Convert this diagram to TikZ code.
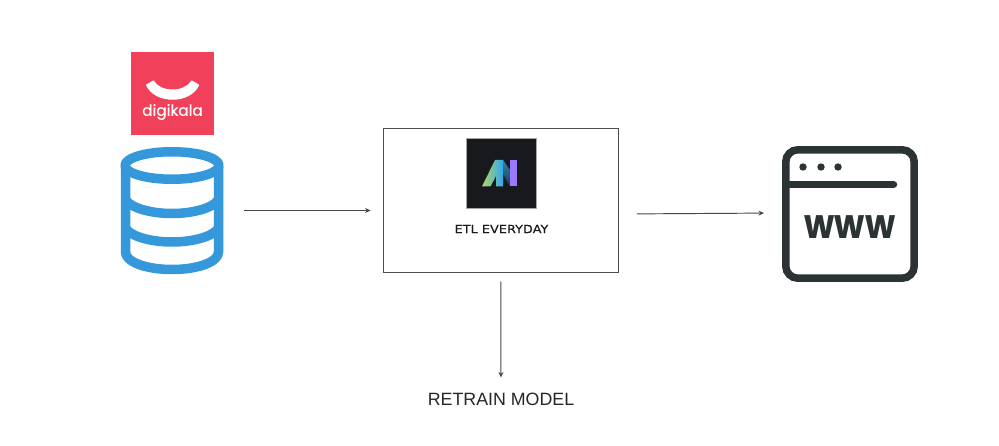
\documentclass[tikz,border=0pt]{standalone}
\usepackage{fontspec}
\setmainfont{Liberation Sans}
\newfontfamily\popfont{Poppins}
\newfontfamily\popheavy[FakeBold=0.5]{Poppins}
\newfontfamily\dvfont[FakeBold=0.15]{DejaVu Sans}
\usetikzlibrary{arrows.meta,calc}
\definecolor{dkred}{HTML}{F1415A}
\definecolor{dbblue}{HTML}{3498DB}
\definecolor{wwwink}{HTML}{2C3335}
\definecolor{logobg}{HTML}{17191D}
\definecolor{mlime}{HTML}{B4D664}
\definecolor{mcyan}{HTML}{45CFE6}
\definecolor{mblue}{HTML}{2FA8F0}
\definecolor{mtealhi}{HTML}{2E86A8}
\definecolor{mteallo}{HTML}{1C3A4C}
\definecolor{mpurple}{HTML}{9A78FF}
\tikzset{
  link/.style={draw=black!72,line width=0.95pt,-{Stealth[length=5.5pt,width=5pt]}},
  dbline/.style={draw=dbblue,line width=9.5pt,line join=round},
  wwwline/.style={draw=wwwink,line width=7.5pt,line cap=round},
  holder/.style={inner sep=0pt,outer sep=0pt,minimum width=#1},
}
\begin{document}
\begin{tikzpicture}[x=1pt,y=-1pt]
\useasboundingbox (0,0) rectangle (999,446);
\fill[white] (0,0) rectangle (999,446);
% digikala logo
\node[fill=dkred,inner sep=0pt,minimum width=83pt,minimum height=83pt] (logo) at (172.5,93.5) {};
\fill[white,line join=round,draw=white,line width=1pt] (146.5,85) -- (153.5,81) .. controls (160,93) and (185,93) .. (191.7,81) -- (198.7,85) .. controls (190,104) and (155,104) .. (146.5,85) -- cycle;
\node[text=white,font=\popheavy\fontsize{15.3}{15.3}\selectfont,inner sep=0pt] (dk) at (172.5,112) {digikala};
% database
\node[holder=104pt,minimum height=129pt] (db) at (172,210.5) {};
\draw[dbline] (172,165.5) ellipse [x radius=47,y radius=13.75];
\draw[dbline] (125.5,166) -- (125.5,252) .. controls (125.5,262) and (146,269.5) .. (172,269.5) .. controls (198,269.5) and (218.5,262) .. (218.5,252) -- (218.5,166);
\draw[dbline] (125.5,199.5) .. controls (130,207.5) and (150,213.5) .. (172,213.5) .. controls (194,213.5) and (214,207.5) .. (218.5,199.5);
\draw[dbline] (125.5,228) .. controls (130,236) and (150,242) .. (172,242) .. controls (194,242) and (214,236) .. (218.5,228);
% etl box
\node[draw=black!70,line width=0.8pt,minimum width=235.5pt,minimum height=144pt,inner sep=0pt] (etl) at (500.75,200) {};
\node[fill=logobg,draw=black!35,line width=0.5pt,inner sep=0pt,minimum width=70pt,minimum height=70pt] (mlogo) at (501,173) {};
\shade[left color=mlime,middle color=mcyan,right color=mblue] (482,186.5) -- (490.5,186.5) -- (496,176) -- (496,186.5) -- (503,186.5) -- (503,160) -- (495,160) -- cycle;
\shade[top color=mtealhi,bottom color=mteallo] (503,160) -- (510,170) -- (510,186.5) -- (503,174) -- cycle;
\fill[mpurple] (510,160) -- (517.3,160) -- (517.3,186.5) -- (510,186.5) -- cycle;
\node[font=\dvfont\fontsize{11.3}{11.3}\selectfont,inner sep=0pt,text=black!90] (etltext) at (501.5,229) {\scalebox{1.14}[1]{ETL EVERYDAY}};
% www
\node[holder=136pt,minimum height=136pt] (www) at (850,214) {};
\draw[wwwline,rounded corners=12pt] (785.8,149.8) rectangle (914.2,278.2);
\fill[wwwink] (803,167) circle (3.7) (821,167) circle (3.7) (838,167) circle (3.7);
\draw[wwwline] (786,184.5) -- (893.5,184.5);
\node[font=\popfont\bfseries\fontsize{41}{41}\selectfont,text=wwwink,inner sep=0pt] (wwwtext) at (850,227) {\scalebox{0.85}[1]{www}};
% retrain
\node[font=\fontsize{17.8}{17.8}\selectfont,inner sep=0pt,text=black!85] (retrain) at (501,399) {RETRAIN MODEL};
% connectors
\draw[link,shorten <=20pt,shorten >=12pt] (db.east) -- (db.east -| etl.west);
\draw[link,shorten <=18pt,shorten >=18pt] (www.west -| etl.east) -- ([yshift=1pt]www.west);
\draw[link,shorten <=9pt,shorten >=15pt] (etl.south) -- (retrain.north);
\end{tikzpicture}
\end{document}
